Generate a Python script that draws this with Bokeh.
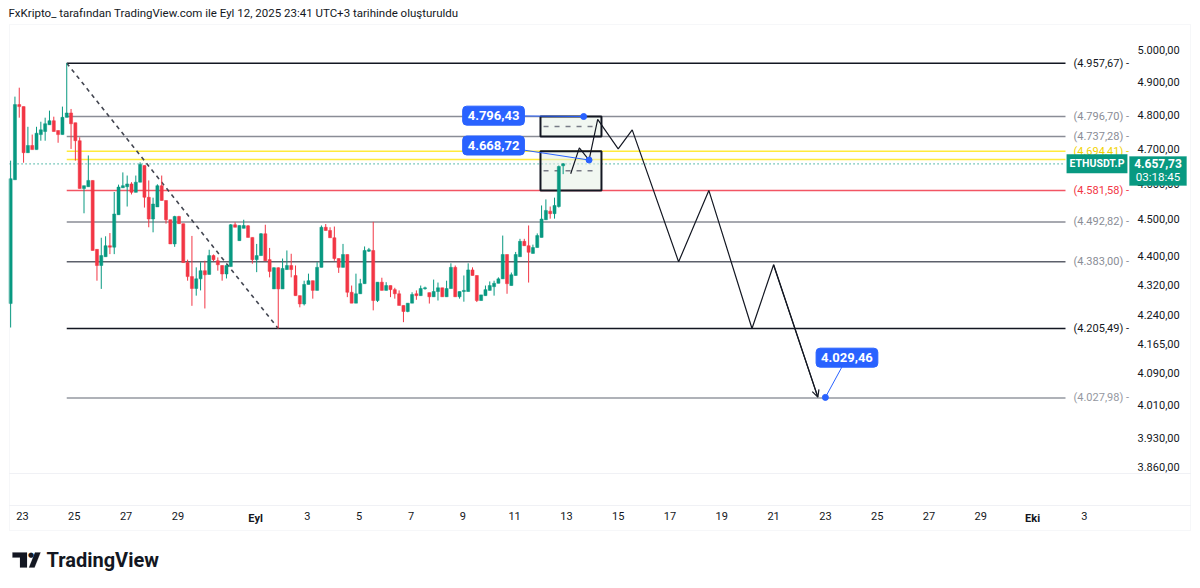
import pandas as pd
from bokeh.plotting import figure
from bokeh.models import (Range1d, FixedTicker, CustomJSTickFormatter, Label, LabelSet,
                          ColumnDataSource, Arrow, OpenHead, BoxAnnotation, PolyAnnotation,
                          LinearAxis)
from bokeh.core.properties import value
from bokeh.embed import file_html
from bokeh.resources import INLINE

# ---------------- data ----------------
candle_start = "2025-08-22 13:00"      # first 4h candle, UTC+3
opens = [4271, 4612, 4832, 4826, 4690, 4711, 4699, 4743, 4752, 4772,
         4784, 4755, 4743, 4794, 4807, 4778, 4725, 4587, 4592, 4610,
         4417, 4373, 4397, 4427, 4423, 4513, 4589, 4592, 4600, 4576,
         4605, 4653, 4562, 4501, 4535, 4595, 4553, 4499, 4432, 4508,
         4488, 4381, 4343, 4311, 4337, 4359, 4349, 4400, 4386, 4373,
         4350, 4370, 4485, 4441, 4475, 4482, 4450, 4389, 4400, 4460,
         4389, 4310, 4367, 4310, 4362, 4373, 4346, 4292, 4270, 4322,
         4332, 4306, 4368, 4478, 4469, 4449, 4392, 4368, 4403, 4301,
         4272, 4297, 4324, 4412, 4414, 4279, 4328, 4306, 4319, 4308,
         4297, 4266, 4250, 4272, 4297, 4292, 4311, 4300, 4289, 4303,
         4313, 4289, 4311, 4368, 4289, 4303, 4303, 4361, 4346, 4279,
         4292, 4306, 4316, 4325, 4337, 4403, 4319, 4346, 4397, 4439,
         4427, 4406, 4422, 4450, 4499, 4523, 4516, 4536, 4652]
highs = [4667, 4856, 4883, 4826, 4766, 4743, 4766, 4781, 4793, 4814,
         4796, 4755, 4826, 4957.67, 4819, 4778, 4735, 4595, 4682, 4610,
         4417, 4449, 4453, 4462, 4577, 4598, 4633, 4624, 4605, 4624,
         4662, 4653, 4610, 4561, 4599, 4624, 4553, 4499, 4510, 4510,
         4488, 4389, 4454, 4368, 4382, 4386, 4416, 4403, 4395, 4373,
         4373, 4487, 4492, 4483, 4499, 4484, 4450, 4432, 4462, 4485,
         4421, 4368, 4368, 4392, 4414, 4405, 4373, 4292, 4332, 4351,
         4332, 4382, 4483, 4487, 4478, 4480, 4392, 4432, 4403, 4319,
         4351, 4337, 4425, 4421, 4493, 4328, 4340, 4328, 4319, 4313,
         4306, 4266, 4272, 4301, 4306, 4319, 4316, 4300, 4335, 4327,
         4313, 4332, 4379, 4373, 4303, 4346, 4379, 4368, 4346, 4294,
         4319, 4330, 4332, 4341, 4455, 4403, 4354, 4410, 4446, 4446,
         4483, 4430, 4461, 4539, 4556, 4536, 4561, 4653, 4660]
lows = [4208, 4612, 4793, 4661, 4690, 4699, 4699, 4725, 4725, 4772,
        4752, 4719, 4743, 4794, 4701, 4667, 4587, 4517, 4592, 4414,
        4332, 4310, 4397, 4404, 4404, 4513, 4589, 4536, 4570, 4576,
        4605, 4533, 4478, 4464, 4535, 4553, 4488, 4432, 4424, 4488,
        4381, 4332, 4265, 4292, 4306, 4258, 4349, 4385, 4359, 4332,
        4338, 4370, 4478, 4441, 4475, 4450, 4378, 4355, 4400, 4386,
        4341, 4310, 4205.49, 4310, 4362, 4341, 4292, 4261, 4266, 4322,
        4284, 4306, 4368, 4469, 4449, 4386, 4353, 4368, 4288, 4272,
        4272, 4297, 4324, 4410, 4253, 4275, 4306, 4306, 4288, 4284,
        4266, 4222, 4248, 4272, 4281, 4292, 4308, 4271, 4289, 4279,
        4289, 4289, 4311, 4289, 4284, 4276, 4303, 4346, 4275, 4279,
        4292, 4306, 4292, 4325, 4337, 4297, 4319, 4346, 4397, 4427,
        4327, 4406, 4422, 4450, 4499, 4502, 4502, 4533, 4628]
closes = [4615, 4832, 4826, 4690, 4711, 4699, 4747, 4757, 4775, 4784,
          4752, 4743, 4794, 4807, 4775, 4725, 4587, 4595, 4610, 4414,
          4373, 4400, 4427, 4423, 4515, 4591, 4595, 4600, 4576, 4605,
          4656, 4562, 4501, 4543, 4595, 4553, 4499, 4432, 4508, 4488,
          4381, 4343, 4311, 4337, 4359, 4348, 4400, 4389, 4375, 4350,
          4373, 4485, 4478, 4483, 4483, 4450, 4389, 4400, 4460, 4386,
          4357, 4367, 4310, 4365, 4373, 4362, 4292, 4270, 4322, 4332,
          4306, 4368, 4478, 4469, 4449, 4392, 4368, 4403, 4301, 4272,
          4297, 4324, 4414, 4416, 4279, 4328, 4306, 4319, 4308, 4297,
          4266, 4250, 4272, 4295, 4292, 4311, 4313, 4289, 4303, 4313,
          4289, 4311, 4368, 4289, 4303, 4306, 4361, 4346, 4279, 4294,
          4308, 4319, 4325, 4337, 4403, 4324, 4348, 4403, 4439, 4427,
          4409, 4422, 4455, 4501, 4525, 4516, 4539, 4650, 4657.73]

level_prices = [4957.67, 4796.70, 4737.28, 4694.41, 4670.00, 4581.58, 4492.82, 4383.00, 4205.49, 4027.98]
level_colors = ["#131722", "#8a8d96", "#8a8d96", "#ffeb3b", "#ffeb3b", "#f25563",
                "#8a8d96", "#5d606b", "#131722", "#9598a1"]
level_text_colors = ["#131722", "#8a8d96", "#8a8d96", "#f2d300", "#f2d300", "#f23645",
                     "#8a8d96", "#8a8d96", "#131722", "#9598a1"]
level_labeled = [True, True, True, True, False, True, True, True, True, True]

last_price = 4657.73
symbol = "ETHUSDT.P"
countdown = "03:18:45"

zone_dates = ["2025-09-12 00:00", "2025-09-14 08:30"]
zone_tops = [4796.70, 4694.41]
zone_bottoms = [4737.28, 4581.58]

path_dates = ["2025-09-13 04:00", "2025-09-13 12:00", "2025-09-13 21:00", "2025-09-14 05:00",
              "2025-09-15 00:00", "2025-09-15 13:00", "2025-09-17 08:00", "2025-09-18 12:00",
              "2025-09-20 04:00", "2025-09-21 00:00", "2025-09-22 17:00"]
path_prices = [4629, 4704, 4668.72, 4788, 4701, 4757, 4383, 4581.58, 4205.49, 4375, 4030]

callout_values = [4796.43, 4668.72, 4029.46]
callout_dot_dates = ["2025-09-13 16:00", "2025-09-13 21:00", "2025-09-23 00:00"]
callout_box_dates = ["2025-09-10 04:30", "2025-09-10 04:30", "2025-09-23 20:00"]
callout_box_prices = [4799, 4711, 4130]

price_ticks = [3860, 3930, 4010, 4090, 4165, 4240, 4320, 4400, 4500, 4600, 4700, 4800, 4900, 5000]
date_ticks = ["2025-08-23", "2025-08-25", "2025-08-27", "2025-08-29", "2025-09-01", "2025-09-03",
              "2025-09-05", "2025-09-07", "2025-09-09", "2025-09-11", "2025-09-13", "2025-09-15",
              "2025-09-17", "2025-09-19", "2025-09-21", "2025-09-23", "2025-09-25", "2025-09-27",
              "2025-09-29", "2025-10-01", "2025-10-03"]
date_tick_labels = ["23", "25", "27", "29", "Eyl", "3", "5", "7", "9", "11", "13", "15",
                    "17", "19", "21", "23", "25", "27", "29", "Eki", "3"]
month_labels = ["Eyl", "Eki"]          # month starts, shown in bold

header = "FxKripto_ tarafından TradingView.com ile Eyl 12, 2025 23:41 UTC+3 tarihinde oluşturuldu"
brand = "TradingView"
# visible window (whole picture) and where the drawn lines stop (price-scale edge)
view_dates = ["2025-08-22 03:37", "2025-10-07 11:36"]
view_prices = [3579.0, 5154.4]
pane_dates = ["2025-08-22 12:00", "2025-10-02 06:30"]

# ---------------- helpers ----------------
REF = pd.Timestamp("2025-08-23 00:00")


def day(t):
    return (pd.Timestamp(t) - REF) / pd.Timedelta(days=1)


def tr(v):
    s = f"{v:,.2f}"
    return s.replace(",", "X").replace(".", ",").replace("X", ".")


FONT = "Roboto"
INK = "#131722"
UP, DOWN = "#089981", "#f23645"
W, H = 1200, 588


def sy(y):          # screen units measured from the bottom of the picture
    return H - y


x0, x1 = day(view_dates[0]), day(view_dates[1])
pl, pr = day(pane_dates[0]), day(pane_dates[1])
p = figure(width=W, height=H, output_backend="svg", toolbar_location=None,
           x_range=Range1d(x0, x1), y_range=Range1d(*view_prices),
           y_axis_type="log", y_axis_location="right",
           min_border_left=0, min_border_right=0, min_border_top=0, min_border_bottom=0)
p.outline_line_color = None
p.xgrid.visible = False
p.ygrid.visible = False
p.background_fill_color = "white"
p.border_fill_color = "white"

# y axis (price scale)
p.yaxis.ticker = FixedTicker(ticks=price_ticks)
p.yaxis.formatter = CustomJSTickFormatter(code="""
const s = tick.toFixed(2).split('.');
return s[0].replace(/\\B(?=(\\d{3})+(?!\\d))/g, '.') + ',' + s[1];
""")
p.yaxis.axis_line_color = None
p.yaxis.major_tick_line_color = None
p.yaxis.minor_tick_line_color = None
p.yaxis.major_tick_out = 0
p.yaxis.minor_tick_out = 0
p.yaxis.major_label_standoff = -63
p.yaxis.major_label_text_font = FONT
p.yaxis.major_label_text_font_size = "11px"
p.yaxis.major_label_text_color = INK

# x axis (time scale): day numbers regular, month names bold
tick_days = [day(d) for d in date_ticks]
day_ticks = [(d, l) for d, l in zip(tick_days, date_tick_labels) if l not in month_labels]
mon_ticks = [(d, l) for d, l in zip(tick_days, date_tick_labels) if l in month_labels]
p.xaxis.ticker = FixedTicker(ticks=[d for d, _ in day_ticks])
p.xaxis.major_label_overrides = {d: l for d, l in day_ticks}
mon_axis = LinearAxis(ticker=FixedTicker(ticks=[d for d, _ in mon_ticks]),
                      major_label_overrides={d: l for d, l in mon_ticks})
p.add_layout(mon_axis, "below")
for ax in (p.xaxis[0], mon_axis):
    ax.axis_line_color = None
    ax.major_tick_line_color = None
    ax.minor_tick_line_color = None
    ax.major_tick_out = 0
    ax.minor_tick_out = 0
    ax.major_label_standoff = -77
    ax.major_label_text_font = FONT
    ax.major_label_text_font_size = "11px"
    ax.major_label_text_color = INK
mon_axis.major_label_text_font_style = "bold"

# frame chrome
p.add_layout(BoxAnnotation(left=9, right=1190, bottom=sy(530), top=sy(24),
                           left_units="screen", right_units="screen", bottom_units="screen",
                           top_units="screen", fill_alpha=0, line_color="#e0e3eb", line_width=1))
for yy in (473, 505):
    p.add_layout(BoxAnnotation(left=9, right=1190, bottom=sy(yy), top=sy(yy),
                               left_units="screen", right_units="screen", bottom_units="screen",
                               top_units="screen", fill_alpha=0, line_color="#e0e3eb",
                               line_width=1))

# candles
times = pd.date_range(candle_start, periods=len(opens), freq="4h")
cx = [day(t) for t in times]
ath_x = cx[highs.index(max(highs))]
low_x = cx[lows.index(min(lows))]

# level lines
n = len(level_prices)
p.segment(x0=[ath_x] * n, y0=level_prices, x1=[pr] * n, y1=level_prices,
          line_color=level_colors, line_width=1.5)
p.segment(x0=[pl], y0=[last_price], x1=[pr], y1=[last_price], line_color=UP,
          line_dash="1 3", line_width=1.2)

# diagonal dashed line (ATH -> low)
p.line([ath_x, low_x], [max(highs), min(lows)], line_color="#434651", line_width=1.6,
       line_dash="4 4")

# zones
zl, zr = day(zone_dates[0]), day(zone_dates[1])
p.quad(left=[zl, zl], right=[zr, zr], top=zone_tops, bottom=zone_bottoms,
       fill_color="#e4f0e4", fill_alpha=0.5, line_color=INK, line_width=2)
mids = [(t * b) ** 0.5 for t, b in zip(zone_tops, zone_bottoms)]
pad = (zr - zl) * 0.05
p.segment(x0=[zl + pad] * 2, y0=mids, x1=[zr - pad] * 2, y1=mids, line_color="#787b86",
          line_width=1.5, line_dash="5 6")

# candles
inc = [c >= o for o, c in zip(opens, closes)]
cols = [UP if i else DOWN for i in inc]
tops = [max(o, c) for o, c in zip(opens, closes)]
bots = [min(min(o, c), max(o, c) - 2.5) for o, c in zip(opens, closes)]
src = ColumnDataSource(dict(x=cx, h=highs, l=lows, t=tops, b=bots, c=cols))
p.segment(x0="x", y0="l", x1="x", y1="h", line_color="c", line_width=1, source=src)
p.vbar(x="x", width=0.118, top="t", bottom="b", fill_color="c", line_color="c",
       line_width=0.5, source=src)

# projected path
px = [day(d) for d in path_dates]
p.line(px, path_prices, line_color=INK, line_width=1.2)
p.add_layout(Arrow(end=OpenHead(size=7, line_width=1.2, line_color=INK),
                   x_start=px[-2], y_start=path_prices[-2], x_end=px[-1], y_end=path_prices[-1],
                   line_color=INK, line_width=1.2))

# callouts
dx = [day(d) for d in callout_dot_dates]
bx = [day(d) for d in callout_box_dates]
p.segment(x0=bx, y0=callout_box_prices, x1=dx, y1=callout_values, line_color="#2962ff",
          line_width=1)
p.scatter(dx, callout_values, size=6, color="#2962ff")
for x, y, v in zip(bx, callout_box_prices, callout_values):
    p.add_layout(Label(x=x, y=y, text=tr(v), text_align="center", text_baseline="middle",
                       text_font=FONT, text_font_size="13px", text_font_style="bold",
                       text_color="white", background_fill_color="#2962ff",
                       border_line_color="#2962ff", padding=5, border_radius=4))

# right-side level labels
lab = [(y, f"({tr(y)}) -", c) for y, c, s in zip(level_prices, level_text_colors, level_labeled) if s]
lsrc = ColumnDataSource(dict(y=[a[0] for a in lab], t=[a[1] for a in lab], c=[a[2] for a in lab]))
p.add_layout(LabelSet(x=1073, y="y", text="t", x_units="screen", source=lsrc,
                      text_color="c", text_font=value(FONT), text_font_size="11px",
                      text_baseline="middle"))

# last price tags
p.add_layout(Label(x=1096.5, y=last_price, x_units="screen", text=symbol, text_align="center",
                   text_baseline="middle", text_font=FONT, text_font_size="10.5px",
                   text_font_style="bold", text_color="white", background_fill_color=UP,
                   padding=3))
p.add_layout(BoxAnnotation(left=1129, right=1186, top=sy(156), bottom=sy(185),
                           left_units="screen", right_units="screen", top_units="screen",
                           bottom_units="screen", fill_color=UP, fill_alpha=1, line_color=UP))
p.add_layout(Label(x=1157.5, y=last_price, x_units="screen", y_offset=0.5, text=tr(last_price),
                   text_align="center", text_baseline="middle", text_font=FONT,
                   text_font_size="12px", text_font_style="bold", text_color="white"))
p.add_layout(Label(x=1157.5, y=last_price, x_units="screen", y_offset=-13.5, text=countdown,
                   text_align="center", text_baseline="middle", text_font=FONT,
                   text_font_size="11.5px", text_color="white"))

# header
p.add_layout(Label(x=8, y=sy(12), x_units="screen", y_units="screen", text=header,
                   text_baseline="middle", text_font=FONT, text_font_size="11.5px",
                   text_color=INK))

# logo
p.add_layout(PolyAnnotation(xs=[12, 26.5, 26.5, 19.5, 19.5, 12],
                            ys=[sy(552), sy(552), sy(567), sy(567), sy(557), sy(557)],
                            xs_units="screen", ys_units="screen", fill_color=INK,
                            fill_alpha=1, line_color=INK, line_width=0.5))
p.add_layout(PolyAnnotation(xs=[34.5, 40, 34, 28.5],
                            ys=[sy(552), sy(552), sy(567), sy(567)],
                            xs_units="screen", ys_units="screen", fill_color=INK,
                            fill_alpha=1, line_color=INK, line_width=0.5))
p.add_layout(Label(x=30.5, y=sy(554.5), x_units="screen", y_units="screen", text="●",
                   text_align="center", text_baseline="middle", text_font="DejaVu Sans",
                   text_font_size="7px", text_color=INK))
p.add_layout(Label(x=46, y=sy(559), x_units="screen", y_units="screen", text=brand,
                   text_baseline="middle", text_font=FONT, text_font_size="20px",
                   text_font_style="bold", text_color=INK))

open("out.html", "w").write(file_html(p, INLINE))
